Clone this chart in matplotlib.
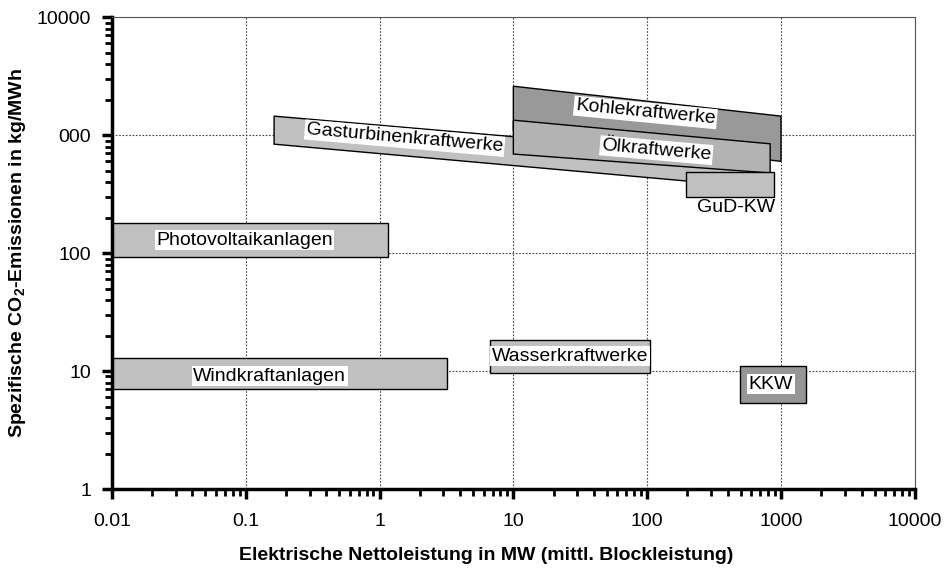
import matplotlib
matplotlib.use("Agg")
import matplotlib.pyplot as plt
from matplotlib.patches import Polygon
from matplotlib.ticker import LogLocator, NullFormatter

plt.rcParams["font.family"] = ["Liberation Sans", "DejaVu Sans"]
plt.rcParams["mathtext.fontset"] = "custom"
plt.rcParams["mathtext.rm"] = "Liberation Sans"
plt.rcParams["mathtext.bf"] = "Liberation Sans:bold"

# Kraftwerkstypen: Leistungsbereich (MW) und CO2-Emissionen (kg/MWh)
# Ecken: oben links/rechts, unten rechts/links
names = ["Gasturbinenkraftwerke", "Kohlekraftwerke", "Ölkraftwerke", "GuD-KW",
         "Photovoltaikanlagen", "Windkraftanlagen", "Wasserkraftwerke", "KKW"]
p_min = [0.163, 10, 10, 195, 0.01, 0.01, 6.7, 490]
p_max = [600, 1000, 830, 890, 1.15, 3.2, 105, 1550]
top_left = [1450, 2600, 1340, 486, 180, 13, 18.3, 11]
top_right = [651, 1450, 845, 486, 180, 13, 18.3, 11]
bot_right = [365, 600, 478, 298, 92, 7, 9.6, 5.4]
bot_left = [839, 1100, 692, 298, 92, 7, 9.6, 5.4]
colors = ["#c0c0c0", "#999999", "#b3b3b3", "#c0c0c0",
          "#c0c0c0", "#c0c0c0", "#c0c0c0", "#969696"]

# Beschriftungen
label_x = [1.54, 97, 117, 461, 0.098, 0.151, 26.6, 842]
label_y = [943, 1560, 746, 245, 129, 9.07, 13.4, 7.76]
label_rot = [-5, -5.5, -5, 0, 0, 0, 0, 0]
label_box = [True, True, True, False, True, True, True, True]

x_ticks = [0.01, 0.1, 1, 10, 100, 1000, 10000]
x_ticklabels = ["0.01", "0.1", "1", "10", "100", "1000", "10000"]
y_ticks = [1, 10, 100, 1000, 10000]
y_ticklabels = ["1", "10", "100", "000", "10000"]

fig = plt.figure(figsize=(9.48, 5.74), dpi=100)
ax = fig.add_axes([0.118, 0.148, 0.847, 0.822])
ax.set_xscale("log")
ax.set_yscale("log")
ax.set_xlim(0.01, 10000)
ax.set_ylim(1, 10000)

for i in range(len(names)):
    pts = [(p_min[i], top_left[i]), (p_max[i], top_right[i]),
           (p_max[i], bot_right[i]), (p_min[i], bot_left[i])]
    ax.add_patch(Polygon(pts, closed=True, facecolor=colors[i],
                         edgecolor="black", lw=1.0, zorder=2 + i * 0.01))
    bbox = dict(boxstyle="square,pad=0.08", facecolor="white", edgecolor="none") if label_box[i] else None
    ax.text(label_x[i], label_y[i], names[i], fontsize=14, ha="center", va="center",
            rotation=label_rot[i], rotation_mode="anchor", bbox=bbox, zorder=3)

ax.set_xticks(x_ticks)
ax.set_xticklabels(x_ticklabels)
ax.set_yticks(y_ticks)
ax.set_yticklabels(y_ticklabels)
ax.xaxis.set_minor_locator(LogLocator(base=10, subs=range(2, 10), numticks=20))
ax.yaxis.set_minor_locator(LogLocator(base=10, subs=range(2, 10), numticks=20))
ax.xaxis.set_minor_formatter(NullFormatter())
ax.yaxis.set_minor_formatter(NullFormatter())

ax.grid(True, which="major", linestyle=(0, (1.5, 1.5)), color="#444444", lw=0.8)
ax.set_axisbelow(True)

ax.tick_params(axis="both", which="major", direction="out", length=7, width=2.5,
               labelsize=14, pad=8)
ax.tick_params(axis="both", which="minor", direction="out", length=5, width=2)
ax.tick_params(axis="x", which="major", pad=10)

for side in ["left", "bottom"]:
    ax.spines[side].set_linewidth(2.5)
for side in ["top", "right"]:
    ax.spines[side].set_linewidth(0.8)
    ax.spines[side].set_color("#555555")

ax.set_xlabel("Elektrische Nettoleistung in MW (mittl. Blockleistung)",
              fontsize=14, fontweight="bold")
ax.xaxis.set_label_coords(0.466, -0.122)
ax.set_ylabel(r"Spezifische CO$_\mathbf{2}$-Emissionen in kg/MWh",
              fontsize=14, fontweight="bold", labelpad=6)

fig.savefig("out.png", dpi=100)
